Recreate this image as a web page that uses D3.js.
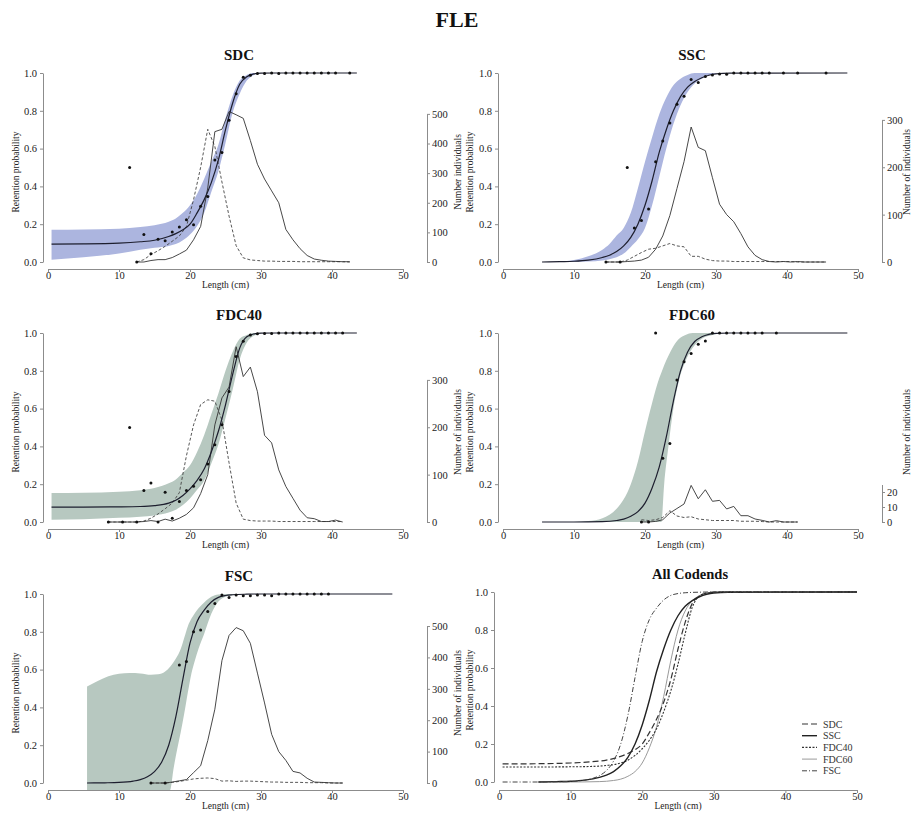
<!DOCTYPE html>
<html>
<head>
<meta charset="utf-8">
<script src="https://cdn.jsdelivr.net/npm/d3@7"></script>
<style>
body { margin: 0; background: #fff; }
svg { font-family: "Liberation Serif", "Times New Roman", serif; }
.axis path, .axis line { stroke: #8c8c8c; stroke-width: 1; }
.axis text { fill: #222; font-size: 10.5px; font-family: "Liberation Serif", "Times New Roman", serif; }
.title { font-weight: bold; font-size: 15px; fill: #111; text-anchor: middle; }
.label { font-size: 9.5px; fill: #222; text-anchor: middle; }
.legend { font-size: 10px; fill: #333; }
</style>
</head>
<body>
<script>
//Global variables
const width = 914;
const height = 814;

//Tick labels
const lengthTicks = [0, 10, 20, 30, 40, 50];
const probTicks = [0, 0.2, 0.4, 0.6, 0.8, 1.0];

//SDC: fitted curve, confidence band, observed proportions, length counts
const sdcFitLen = [0.5, 5, 10, 13, 15, 17, 18, 19, 20, 21, 22, 23, 24, 25, 26, 27, 28, 29, 30, 32, 35, 43.5];
const sdcFitP = [0.095, 0.096, 0.10, 0.107, 0.115, 0.135, 0.15, 0.17, 0.20, 0.26, 0.33, 0.42, 0.54, 0.70, 0.84, 0.94, 0.98, 0.995, 0.999, 1, 1, 1];
const sdcBandLen = [0.5, 5, 10, 13, 15, 17, 18, 19, 20, 21, 22, 23, 24, 25, 26, 27, 28, 29, 30];
const sdcBandUp = [0.171, 0.172, 0.176, 0.185, 0.195, 0.213, 0.23, 0.26, 0.30, 0.36, 0.44, 0.53, 0.62, 0.76, 0.88, 0.96, 0.99, 1.0, 1.0];
const sdcBandLo = [0.012, 0.025, 0.045, 0.065, 0.075, 0.085, 0.095, 0.115, 0.145, 0.19, 0.26, 0.37, 0.48, 0.63, 0.79, 0.89, 0.96, 0.99, 1.0];
const sdcDotLen = [11.5, 12.5, 13.5, 14.5, 15.5, 16.5, 17.5, 18.5, 19.5, 20.5, 21.5, 22.5, 23.5, 24.5, 25.5, 26.5, 27.5, 28.5, 29.5, 30.5, 31.5, 32.5, 33.5, 34.5, 35.5, 36.5, 37.5, 38.5, 39.5, 40.5, 42.5];
const sdcDotP = [0.50, 0, 0.145, 0.044, 0.12, 0.113, 0.159, 0.185, 0.224, 0.197, 0.295, 0.347, 0.54, 0.58, 0.75, 0.89, 0.977, 0.988, 0.997, 0.997, 1, 0.998, 1, 1, 1, 1, 1, 1, 1, 1, 1];
const sdcBins = [12.5, 13.5, 14.5, 15.5, 16.5, 17.5, 18.5, 19.5, 20.5, 21.5, 22.5, 23.5, 24.5, 25.5, 26.5, 27.5, 28.5, 29.5, 30.5, 31.5, 32.5, 33.5, 34.5, 35.5, 36.5, 37.5, 38.5, 39.5, 40.5, 41.5, 42.5];
const sdcSolid = [0, 0, 5, 8, 8, 15, 27, 40, 75, 120, 250, 440, 448, 508, 497, 485, 410, 330, 280, 240, 200, 110, 75, 45, 22, 10, 6, 3, 2, 1, 1];
const sdcDashed = [0, 8, 25, 38, 53, 70, 88, 120, 210, 320, 448, 390, 270, 155, 55, 14, 7, 5, 3, 3, 2, 2, 2, 1, 1, 1, 1, 1, 1, 1, 0];

//SSC
const sscFitLen = [5.5, 8, 10, 12, 14, 15, 16, 17, 18, 19, 20, 21, 22, 23, 24, 25, 26, 27, 28, 29, 30, 32, 48.5];
const sscFitP = [0, 0.002, 0.004, 0.01, 0.024, 0.036, 0.055, 0.085, 0.13, 0.2, 0.30, 0.43, 0.58, 0.70, 0.80, 0.875, 0.925, 0.955, 0.975, 0.988, 0.995, 0.999, 1];
const sscBandLen = [8, 10, 12, 14, 15, 16, 17, 18, 19, 20, 21, 22, 23, 24, 25, 26, 27, 28, 29, 30];
const sscBandUp = [0.003, 0.01, 0.03, 0.065, 0.095, 0.14, 0.18, 0.26, 0.39, 0.53, 0.66, 0.78, 0.87, 0.935, 0.97, 0.99, 1, 1, 1, 1];
const sscBandLo = [0, 0, 0.002, 0.008, 0.015, 0.025, 0.045, 0.08, 0.12, 0.18, 0.30, 0.45, 0.60, 0.73, 0.83, 0.90, 0.945, 0.97, 0.99, 0.998];
const sscDotLen = [14.5, 16.5, 17.5, 18.5, 19.5, 20.5, 21.5, 22.5, 23.5, 24.5, 25.5, 26.5, 27.5, 28.5, 29.5, 30.5, 31.5, 32.5, 33.5, 34.5, 35.5, 36.5, 37.5, 39.5, 41.5, 45.5];
const sscDotP = [0, 0, 0.50, 0.18, 0.22, 0.28, 0.53, 0.64, 0.735, 0.835, 0.877, 0.965, 0.95, 0.982, 0.99, 0.995, 0.993, 1, 1, 1, 1, 1, 1, 1, 1, 1];
const sscBins = [14.5, 15.5, 16.5, 17.5, 18.5, 19.5, 20.5, 21.5, 22.5, 23.5, 24.5, 25.5, 26.5, 27.5, 28.5, 29.5, 30.5, 31.5, 32.5, 33.5, 34.5, 35.5, 36.5, 37.5, 38.5, 39.5, 40.5, 41.5, 42.5, 43.5, 44.5, 45.5];
const sscSolid = [0, 0, 0, 1, 2, 4, 10, 27, 55, 98, 155, 212, 285, 242, 235, 178, 122, 100, 85, 60, 32, 14, 5, 1, 0, 1, 0, 1, 0, 0, 0, 0];
const sscDashed = [0, 0, 0, 4, 12, 20, 27, 29, 34, 39, 34, 32, 12, 12, 6, 3, 2, 2, 1, 1, 1, 1, 1, 1, 1, 1, 1, 0, 0, 0, 0, 0];

//FDC40
const fdc40FitLen = [0.5, 5, 10, 13, 15, 17, 18, 19, 20, 21, 22, 23, 24, 25, 26, 27, 28, 29, 30, 32, 43.5];
const fdc40FitP = [0.079, 0.079, 0.08, 0.082, 0.087, 0.10, 0.115, 0.14, 0.175, 0.22, 0.28, 0.37, 0.48, 0.62, 0.78, 0.92, 0.98, 0.995, 0.999, 1, 1];
const fdc40BandLen = [0.5, 5, 10, 13, 15, 17, 18, 19, 20, 21, 22, 23, 24, 25, 26, 27, 28, 29, 30];
const fdc40BandUp = [0.153, 0.155, 0.16, 0.168, 0.18, 0.205, 0.225, 0.26, 0.30, 0.37, 0.46, 0.57, 0.68, 0.80, 0.90, 0.97, 0.99, 1.0, 1.0];
const fdc40BandLo = [0.012, 0.015, 0.022, 0.028, 0.035, 0.05, 0.065, 0.09, 0.125, 0.17, 0.22, 0.31, 0.41, 0.55, 0.70, 0.86, 0.95, 0.985, 0.998];
const fdc40DotLen = [8.5, 10.5, 11.5, 12.5, 13.5, 14.5, 15.5, 16.5, 17.5, 18.5, 19.5, 20.5, 21.5, 22.5, 23.5, 24.5, 25.5, 26.5, 27.5, 28.5, 29.5, 30.5, 31.5, 32.5, 33.5, 34.5, 35.5, 36.5, 37.5, 38.5, 39.5, 40.5, 41.5];
const fdc40DotP = [0, 0, 0.5, 0, 0.167, 0.206, 0, 0.157, 0.02, 0.109, 0.167, 0.189, 0.224, 0.307, 0.409, 0.515, 0.69, 0.876, 0.956, 0.99, 0.996, 0.997, 0.997, 1, 1, 1, 1, 1, 1, 1, 1, 1, 1];
const fdc40Bins = [8.5, 9.5, 10.5, 11.5, 12.5, 13.5, 14.5, 15.5, 16.5, 17.5, 18.5, 19.5, 20.5, 21.5, 22.5, 23.5, 24.5, 25.5, 26.5, 27.5, 28.5, 29.5, 30.5, 31.5, 32.5, 33.5, 34.5, 35.5, 36.5, 37.5, 38.5, 39.5, 40.5, 41.5];
const fdc40Solid = [0, 0, 0, 0, 0, 1, 3, 1, 6, 2, 8, 16, 30, 60, 100, 205, 262, 285, 370, 307, 327, 275, 183, 167, 110, 75, 50, 25, 9, 7, 1, 1, 4, 0];
const fdc40Dashed = [0, 0, 0, 0, 0, 2, 8, 17, 28, 40, 62, 140, 205, 248, 258, 255, 215, 125, 40, 6, 3, 2, 2, 2, 1, 1, 1, 1, 1, 1, 1, 1, 1, 1];

//FDC60
const fdc60FitLen = [5.5, 10, 14, 16, 17, 18, 19, 20, 21, 22, 23, 24, 25, 26, 27, 28, 29, 30, 32, 48.5];
const fdc60FitP = [0, 0, 0.002, 0.008, 0.015, 0.03, 0.055, 0.10, 0.18, 0.29, 0.45, 0.64, 0.80, 0.90, 0.955, 0.98, 0.993, 0.998, 1, 1];
const fdc60BandLen = [5.5, 10, 12, 14, 16, 17, 18, 19, 20, 21, 22, 22.3, 22.7, 23.3, 24, 24.8, 25.7, 26.7, 28, 29.5, 31];
const fdc60BandUp = [0, 0, 0.005, 0.02, 0.07, 0.12, 0.2, 0.32, 0.48, 0.63, 0.76, 0.79, 0.83, 0.88, 0.93, 0.97, 0.99, 1, 1, 1, 1];
const fdc60BandLo = [0, 0, 0, 0, 0, 0, 0, 0, 0, 0, 0, 0, 0.2, 0.4, 0.6, 0.75, 0.85, 0.92, 0.97, 0.99, 1];
const fdc60DotLen = [19.5, 20.5, 21.5, 22.5, 23.5, 24.5, 25.5, 26.5, 27.5, 28.5, 29.5, 30.5, 31.5, 32.5, 33.5, 34.5, 35.5, 36.5, 38.5];
const fdc60DotP = [0, 0, 1, 0.337, 0.416, 0.751, 0.848, 0.892, 0.94, 0.958, 1, 1, 1, 1, 1, 1, 1, 1, 1];
const fdc60Bins = [19.5, 20.5, 21.5, 22.5, 23.5, 24.5, 25.5, 26.5, 27.5, 28.5, 29.5, 30.5, 31.5, 32.5, 33.5, 34.5, 35.5, 36.5, 37.5, 38.5, 39.5, 40.5, 41.5];
const fdc60Solid = [0, 0, 0.4, 1.5, 6, 9, 12, 24.4, 15.5, 21.5, 13.8, 14.4, 8.7, 10.4, 4.2, 4.2, 2, 1.1, 0, 0.9, 0, 0, 0];
const fdc60Dashed = [1.5, 1, 1.5, 3, 7.5, 4, 3, 3.5, 2, 1.5, 1, 1, 1, 1, 0.5, 0.5, 0.5, 0.3, 0, 0, 0, 0, 0];

//FSC
const fscFitLen = [5.5, 8, 10, 12, 13, 14, 15, 16, 17, 18, 19, 20, 21, 22, 23, 24, 25, 26, 28, 30, 48.5];
const fscFitP = [0, 0.001, 0.003, 0.01, 0.018, 0.033, 0.06, 0.11, 0.2, 0.35, 0.55, 0.74, 0.855, 0.915, 0.958, 0.982, 0.992, 0.996, 0.999, 1, 1];
const fscBandLen = [5.5, 7, 8.5, 10, 11.5, 13, 14.5, 15.5, 16.5, 17.2, 17.7, 18.2, 18.7, 19.2, 19.7, 20.2, 20.7, 21.2, 22, 23, 24, 25, 26, 28];
const fscBandUp = [0.51, 0.54, 0.565, 0.578, 0.582, 0.58, 0.573, 0.575, 0.59, 0.615, 0.64, 0.67, 0.71, 0.77, 0.83, 0.87, 0.9, 0.925, 0.955, 0.985, 0.997, 1, 1, 1];
const fscBandLo = [-0.037, -0.037, -0.037, -0.037, -0.037, -0.037, -0.037, -0.037, -0.037, -0.037, 0.08, 0.18, 0.27, 0.37, 0.48, 0.58, 0.65, 0.71, 0.79, 0.895, 0.96, 0.985, 0.993, 0.999];
const fscDotLen = [14.5, 16.5, 18.5, 19.5, 20.5, 21.5, 22.5, 23.5, 24.5, 25.5, 26.5, 27.5, 28.5, 29.5, 30.5, 31.5, 32.5, 33.5, 34.5, 35.5, 36.5, 37.5, 38.5, 39.5];
const fscDotP = [0, 0, 0.625, 0.643, 0.80, 0.81, 0.907, 0.95, 0.995, 0.982, 0.995, 0.991, 0.991, 0.995, 0.995, 0.991, 1, 1, 1, 1, 1, 1, 1, 1];
const fscBins = [14.5, 15.5, 16.5, 17.5, 18.5, 19.5, 20.5, 21.5, 22.5, 23.5, 24.5, 25.5, 26.5, 27.5, 28.5, 29.5, 30.5, 31.5, 32.5, 33.5, 34.5, 35.5, 36.5, 37.5, 38.5, 39.5, 40.5, 41.5];
const fscSolid = [0, 0, 0, 3, 7, 11, 33, 55, 135, 235, 390, 470, 495, 485, 445, 350, 255, 155, 100, 72, 37, 32, 15, 3, 2, 1, 0, 0];
const fscDashed = [0, 0, 0, 2, 5, 9, 13, 15, 16, 14, 6, 7, 5, 6, 6, 5, 4, 3, 3, 2, 2, 2, 1, 1, 1, 0, 0, 0];

//All Codends: first and last length drawn for each fitted curve
const allNames = ["SDC", "SSC", "FDC40", "FDC60", "FSC"];
const allStart = [0.5, 5.5, 0.5, 5.5, 0.5];
const allEnd = 50;

//Colours
const blueBand = "#acb5df";
const greenBand = "#b7c8c0";
const fitColor = "#1d1e2e";

//SVG element
const svg = d3.select("body")
    .append("svg")
    .attr("width", width)
    .attr("height", height);

//Header
svg.append("text")
    .attr("x", 457)
    .attr("y", 27)
    .attr("text-anchor", "middle")
    .style("font-size", "22px")
    .style("font-weight", "bold")
    .style("fill", "#111")
    .text("FLE");

const pairs = (xs, ys) => xs.map((x, i) => ({len: x, v: ys[i]}));

//Vertical axis title
function yLabel(x, yc, text) {
    svg.append("text")
        .attr("class", "label")
        .attr("transform", "translate(" + x + "," + yc + ") rotate(-90)")
        .text(text);
}

//One codend panel
function drawPanel(p) {
    const x = d3.scaleLinear().domain([0, 50]).range([p.x0, p.x50]);
    const y = d3.scaleLinear().domain([0, 1]).range([p.bottom, p.top]);
    const yCount = d3.scaleLinear().domain([0, p.countTop]).range([p.bottom, p.top]);

    //confidence band
    const band = p.bandLen.map((d, i) => ({len: d, lo: p.bandLo[i], up: p.bandUp[i]}));
    svg.append("path")
        .datum(band)
        .attr("d", d3.area()
            .x(d => x(d.len))
            .y0(d => y(d.lo))
            .y1(d => y(d.up))
            .curve(d3.curveMonotoneX))
        .attr("fill", p.bandColor);

    //length distributions
    const countLine = d3.line()
        .x(d => x(d.len))
        .y(d => yCount(d.v));

    svg.append("path")
        .datum(pairs(p.bins, p.dashed))
        .attr("d", countLine)
        .attr("fill", "none")
        .attr("stroke", "#444")
        .attr("stroke-width", 0.9)
        .attr("stroke-dasharray", "3,2");

    svg.append("path")
        .datum(pairs(p.bins, p.solid))
        .attr("d", countLine)
        .attr("fill", "none")
        .attr("stroke", "#333")
        .attr("stroke-width", 0.9);

    //fitted retention curve
    svg.append("path")
        .datum(pairs(p.fitLen, p.fitP))
        .attr("d", d3.line()
            .x(d => x(d.len))
            .y(d => y(d.v))
            .curve(d3.curveMonotoneX))
        .attr("fill", "none")
        .attr("stroke", fitColor)
        .attr("stroke-width", 1.2);

    //observed proportions
    svg.append("g")
        .selectAll("circle")
        .data(pairs(p.dotLen, p.dotP))
        .join("circle")
        .attr("cx", d => x(d.len))
        .attr("cy", d => y(d.v))
        .attr("r", 1.5)
        .attr("fill", "#111");

    //axes
    svg.append("g")
        .attr("class", "axis")
        .attr("transform", "translate(" + p.axisX + ",0)")
        .call(d3.axisLeft(y).tickValues(probTicks).tickFormat(d3.format(".1f"))
            .tickSize(3).tickPadding(3).tickSizeOuter(0));

    svg.append("g")
        .attr("class", "axis")
        .attr("transform", "translate(0," + p.xAxisY + ")")
        .call(d3.axisBottom(x).tickValues(lengthTicks).tickFormat(d3.format("d"))
            .tickSize(3).tickPadding(0).tickSizeOuter(0));

    const countAxisScale = yCount.copy()
        .domain([0, p.countMax])
        .range([yCount(0), yCount(p.countMax)]);

    svg.append("g")
        .attr("class", "axis")
        .attr("transform", "translate(" + p.rightX + ",0)")
        .call(d3.axisRight(countAxisScale).tickValues(p.countTicks)
            .tickSize(3).tickPadding(2).tickSizeOuter(0));

    //titles
    svg.append("text")
        .attr("class", "title")
        .attr("x", p.titleX)
        .attr("y", p.top - 13)
        .text(p.title);

    svg.append("text")
        .attr("class", "label")
        .attr("x", (p.x0 + p.x50) / 2)
        .attr("y", p.xAxisY + 19)
        .text("Length (cm)");
}

const leftCol = {x0: 48, x50: 403, axisX: 43, rightX: 427, titleX: 239};
const rightCol = {x0: 503, x50: 858, axisX: 498, rightX: 882, titleX: 692};
const row1 = {top: 73, bottom: 262, xAxisY: 269};
const row2 = {top: 333, bottom: 522, xAxisY: 529};
const row3 = {top: 594, bottom: 783, xAxisY: 790};

drawPanel(Object.assign({}, leftCol, row1, {
    title: "SDC", bandColor: blueBand,
    fitLen: sdcFitLen, fitP: sdcFitP,
    bandLen: sdcBandLen, bandUp: sdcBandUp, bandLo: sdcBandLo,
    dotLen: sdcDotLen, dotP: sdcDotP,
    bins: sdcBins, solid: sdcSolid, dashed: sdcDashed,
    countTop: 638, countMax: 500, countTicks: [0, 100, 200, 300, 400, 500]
}));

drawPanel(Object.assign({}, rightCol, row1, {
    title: "SSC", bandColor: blueBand,
    fitLen: sscFitLen, fitP: sscFitP,
    bandLen: sscBandLen, bandUp: sscBandUp, bandLo: sscBandLo,
    dotLen: sscDotLen, dotP: sscDotP,
    bins: sscBins, solid: sscSolid, dashed: sscDashed,
    countTop: 399, countMax: 300, countTicks: [0, 100, 200, 300]
}));

drawPanel(Object.assign({}, leftCol, row2, {
    title: "FDC40", bandColor: greenBand,
    fitLen: fdc40FitLen, fitP: fdc40FitP,
    bandLen: fdc40BandLen, bandUp: fdc40BandUp, bandLo: fdc40BandLo,
    dotLen: fdc40DotLen, dotP: fdc40DotP,
    bins: fdc40Bins, solid: fdc40Solid, dashed: fdc40Dashed,
    countTop: 399, countMax: 300, countTicks: [0, 100, 200, 300]
}));

drawPanel(Object.assign({}, rightCol, row2, {
    title: "FDC60", bandColor: greenBand,
    fitLen: fdc60FitLen, fitP: fdc60FitP,
    bandLen: fdc60BandLen, bandUp: fdc60BandUp, bandLo: fdc60BandLo,
    dotLen: fdc60DotLen, dotP: fdc60DotP,
    bins: fdc60Bins, solid: fdc60Solid, dashed: fdc60Dashed,
    countTop: 126, countMax: 25, countTicks: [0, 10, 20]
}));

drawPanel(Object.assign({}, leftCol, row3, {
    title: "FSC", bandColor: greenBand,
    fitLen: fscFitLen, fitP: fscFitP,
    bandLen: fscBandLen, bandUp: fscBandUp, bandLo: fscBandLo,
    dotLen: fscDotLen, dotP: fscDotP,
    bins: fscBins, solid: fscSolid, dashed: fscDashed,
    countTop: 602, countMax: 500, countTicks: [0, 100, 200, 300, 400, 500]
}));


//All Codends panel
const allX = d3.scaleLinear().domain([0, 50]).range([499, 857]);
const allY = d3.scaleLinear().domain([0, 1]).range([782, 592]);

const allFits = [sdcFitLen, sscFitLen, fdc40FitLen, fdc60FitLen, fscFitLen];
const allFitP = [sdcFitP, sscFitP, fdc40FitP, fdc60FitP, fscFitP];
const allStyles = {
    SDC:   {stroke: "#333", width: 1.2, dash: "6,3"},
    SSC:   {stroke: "#222", width: 1.4, dash: null},
    FDC40: {stroke: "#333", width: 1.1, dash: "2,1.5"},
    FDC60: {stroke: "#9a9a9a", width: 1, dash: null},
    FSC:   {stroke: "#444", width: 1, dash: "5,2,1,2"}
};

const allLine = d3.line()
    .x(d => allX(d.len))
    .y(d => allY(d.v))
    .curve(d3.curveMonotoneX);

//draw grey FDC60 first so the black curves sit on top
[3, 0, 2, 1, 4].forEach(i => {
    let pts = pairs(allFits[i], allFitP[i]);
    if (allStart[i] < pts[0].len) pts.unshift({len: allStart[i], v: pts[0].v});
    if (pts[pts.length - 1].len < allEnd) pts.push({len: allEnd, v: pts[pts.length - 1].v});
    const s = allStyles[allNames[i]];
    svg.append("path")
        .datum(pts)
        .attr("d", allLine)
        .attr("fill", "none")
        .attr("stroke", s.stroke)
        .attr("stroke-width", s.width)
        .attr("stroke-dasharray", s.dash);
});

svg.append("g")
    .attr("class", "axis")
    .attr("transform", "translate(494,0)")
    .call(d3.axisLeft(allY).tickValues(probTicks).tickFormat(d3.format(".1f"))
        .tickSize(3).tickPadding(3).tickSizeOuter(0));

svg.append("g")
    .attr("class", "axis")
    .attr("transform", "translate(0,790)")
    .call(d3.axisBottom(allX).tickValues(lengthTicks).tickFormat(d3.format("d"))
        .tickSize(3).tickPadding(0).tickSizeOuter(0));

svg.append("text")
    .attr("class", "title")
    .attr("x", 690)
    .attr("y", 579)
    .style("font-size", "14.5px")
    .text("All Codends");

svg.append("text")
    .attr("class", "label")
    .attr("x", 678)
    .attr("y", 809)
    .text("Length (cm)");

//Legend
const legend = svg.append("g").attr("transform", "translate(802,724)");
allNames.forEach((name, i) => {
    const s = allStyles[name];
    legend.append("line")
        .attr("x1", 0).attr("x2", 15)
        .attr("y1", i * 11.7).attr("y2", i * 11.7)
        .attr("stroke", s.stroke)
        .attr("stroke-width", s.width)
        .attr("stroke-dasharray", s.dash);
    legend.append("text")
        .attr("class", "legend")
        .attr("x", 21)
        .attr("y", i * 11.7 + 3.5)
        .text(name);
});

//Vertical axis titles (left and right of each panel)
yLabel(19, 172, "Retention probability");
yLabel(19, 432, "Retention probability");
yLabel(19, 693, "Retention probability");
yLabel(461, 172, "Number individuals");
yLabel(473, 172, "Retention probability");
yLabel(461, 432, "Number of individuals");
yLabel(473, 432, "Retention probability");
yLabel(461, 693, "Number of individuals");
yLabel(473, 690, "Retention probability");
yLabel(910, 172, "Number of individuals");
yLabel(910, 432, "Number of individuals");
</script>
</body>
</html>
